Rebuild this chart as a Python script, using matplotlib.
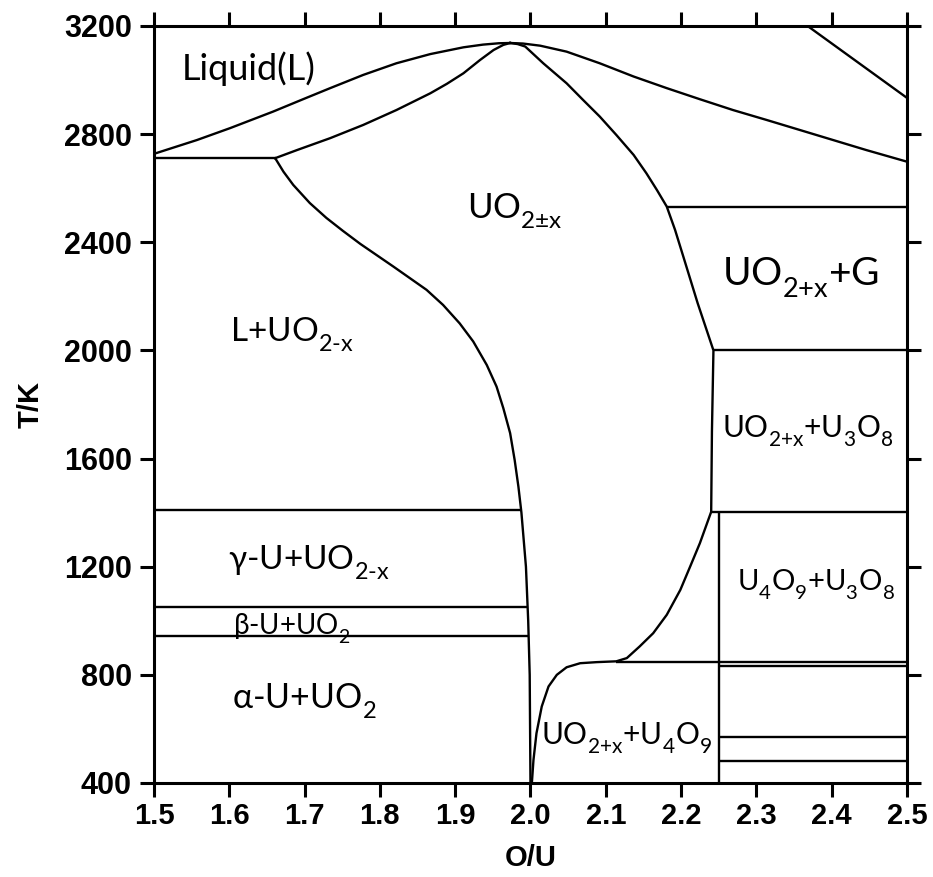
import numpy as np
import matplotlib.pyplot as plt
import matplotlib._mathtext as mathtext_impl

plt.rcParams['mathtext.fontset'] = 'custom'
plt.rcParams['mathtext.rm'] = 'Lato'
plt.rcParams['mathtext.default'] = 'regular'
# drop the subscripts a bit lower than the default
mathtext_impl.FontConstantsBase.sub1 = 0.6

# phase boundaries, O/U ratio vs temperature (K)
liquidus_left_x = [1.500, 1.557, 1.601, 1.658, 1.698, 1.734, 1.778, 1.822, 1.867, 1.911, 1.937, 1.958, 1.973]
liquidus_left_t = [2727, 2778, 2822, 2883, 2929, 2970, 3019, 3062, 3096, 3121, 3131, 3136, 3137]
solidus_left_x = [1.661, 1.690, 1.734, 1.778, 1.822, 1.867, 1.889, 1.911, 1.933, 1.951, 1.964, 1.973]
solidus_left_t = [2711, 2741, 2785, 2834, 2889, 2951, 2986, 3025, 3074, 3111, 3130, 3137]
liquidus_right_x = [1.973, 1.990, 2.013, 2.048, 2.092, 2.137, 2.181, 2.225, 2.269,
                    2.314, 2.358, 2.402, 2.446, 2.500]
liquidus_right_t = [3137, 3135, 3127, 3105, 3062, 3013, 2970, 2929, 2889,
                    2852, 2815, 2778, 2741, 2698]
solidus_right_x = [1.973, 1.983, 1.993, 2.017, 2.048, 2.070, 2.092, 2.114, 2.137, 2.154, 2.168,
                   2.181, 2.192, 2.203, 2.222, 2.243, 2.241, 2.240]
solidus_right_t = [3137, 3133, 3124, 3062, 2988, 2926, 2865, 2797, 2723, 2655, 2593,
                   2532, 2446, 2347, 2175, 2000, 1700, 1403]
hypo_x = [1.661, 1.672, 1.685, 1.707, 1.729, 1.751, 1.774, 1.796, 1.818, 1.840, 1.862, 1.884,
          1.906, 1.924, 1.942, 1.955, 1.964, 1.973, 1.979, 1.984, 1.988, 1.994, 1.997, 1.999, 2.000]
hypo_t = [2711, 2661, 2612, 2545, 2490, 2442, 2394, 2352, 2310, 2267, 2224, 2168,
          2100, 2033, 1946, 1866, 1786, 1694, 1595, 1496, 1400, 1200, 1000, 800, 400]
u4o9_x = [2.000, 2.002, 2.004, 2.008, 2.015, 2.024, 2.035, 2.048, 2.066, 2.088, 2.114,
          2.128, 2.145, 2.163, 2.181, 2.199, 2.212, 2.225, 2.240]
u4o9_t = [400, 405, 485, 584, 683, 757, 800, 828, 843, 847, 850,
          862, 905, 954, 1022, 1114, 1200, 1287, 1403]
gas_x = [2.368, 2.500]
gas_t = [3200, 2934]

# invariant lines: temperature, start and end O/U
iso_t = [2711, 1410, 1051, 944, 2532, 2000, 1403, 849, 831, 571, 482]
iso_x0 = [1.500, 1.500, 1.500, 1.500, 2.181, 2.243, 2.240, 2.114, 2.250, 2.250, 2.250]
iso_x1 = [1.661, 1.988, 1.996, 1.998, 2.500, 2.500, 2.500, 2.500, 2.500, 2.500, 2.500]
u4o9_u3o8_x = 2.25
u4o9_u3o8_t = [400, 1403]

region_labels = ['Liquid(L)', r'UO$_{\text{2±x}}$', r'UO$_{\text{2+x}}$+G', r'L+UO$_{\text{2-x}}$',
                 r'UO$_{\text{2+x}}$+U$_{\text{3}}$O$_{\text{8}}$', r'γ-U+UO$_{\text{2-x}}$',
                 r'β-U+UO$_{\text{2}}$', r'α-U+UO$_{\text{2}}$',
                 r'U$_{\text{4}}$O$_{\text{9}}$+U$_{\text{3}}$O$_{\text{8}}$',
                 r'UO$_{\text{2+x}}$+U$_{\text{4}}$O$_{\text{9}}$']
label_x = [1.626, 1.979, 2.358, 1.683, 2.368, 1.706, 1.683, 1.700, 2.379, 2.128]
label_t = [3000, 2490, 2242, 2031, 1680, 1188, 951, 678, 1114, 541]
label_size = [26, 25, 28, 24, 21.5, 24, 20, 24.5, 21, 21.5]

fig = plt.figure(figsize=(9.33, 8.77), dpi=100)
ax = fig.add_axes([0.165, 0.1072, 0.8071, 0.8632])

lw = 1.7
for xs, ts in [(liquidus_left_x, liquidus_left_t), (solidus_left_x, solidus_left_t),
               (liquidus_right_x, liquidus_right_t), (solidus_right_x, solidus_right_t),
               (hypo_x, hypo_t), (u4o9_x, u4o9_t), (gas_x, gas_t)]:
    ax.plot(xs, ts, color='black', lw=lw, solid_joinstyle='round')

ax.hlines(iso_t, iso_x0, iso_x1, color='black', lw=lw)
ax.vlines(u4o9_u3o8_x, *u4o9_u3o8_t, color='black', lw=lw)

for txt, x, t, s in zip(region_labels, label_x, label_t, label_size):
    ax.text(x, t, txt, fontsize=s, family=['Lato', 'DejaVu Sans'],
            ha='center', va='baseline')

ax.set_xlim(1.5, 2.5)
ax.set_ylim(400, 3200)
ax.set_xticks(np.arange(1.5, 2.51, 0.1))
ax.set_xticklabels([f'{v:.1f}' for v in np.arange(1.5, 2.51, 0.1)])
ax.set_yticks(np.arange(400, 3201, 400))

for sp in ax.spines.values():
    sp.set_linewidth(2.2)
ax.tick_params(direction='out', length=10, width=2.2, top=True, right=True,
               labelsize=21, pad=4)
ax.tick_params(axis='y', labelsize=22, pad=6)
for lab in ax.get_xticklabels() + ax.get_yticklabels():
    lab.set_family('Liberation Sans')
    lab.set_weight('bold')

ax.set_xlabel('O/U', fontsize=21, family='Liberation Sans', weight='bold', labelpad=10)
ax.set_ylabel('T/K', fontsize=21, family='Liberation Sans', weight='bold', labelpad=14)

fig.savefig('out.png', dpi=100)
